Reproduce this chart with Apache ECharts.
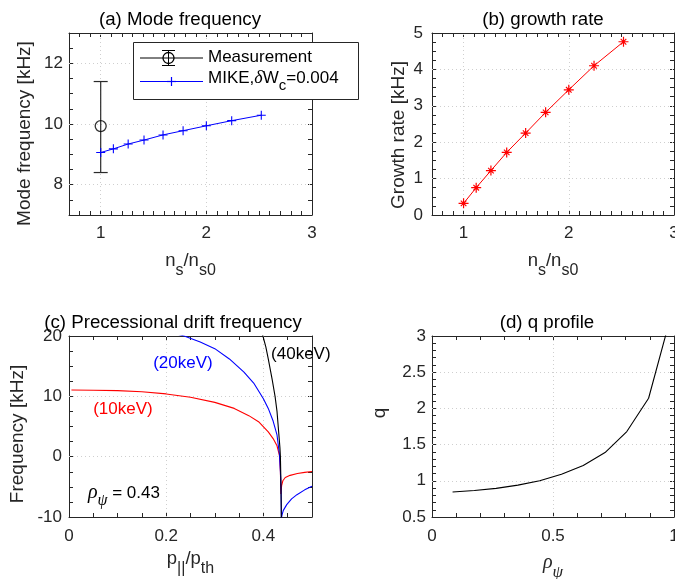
<!DOCTYPE html>
<html>
<head>
<meta charset="utf-8">
<script src="https://cdn.jsdelivr.net/npm/echarts@6/dist/echarts.min.js"></script>
<style>html,body{margin:0;padding:0;background:#fff}#chart{width:675px;height:579px}</style>
</head>
<body>
<div id="chart"></div>
<script>
// ---------------- data ----------------
// (a) mode frequency
const nsRatio      = [1, 1.12, 1.26, 1.41, 1.59, 1.78, 2.0, 2.24, 2.52];
const mikeFreq     = [9.06, 9.18, 9.34, 9.47, 9.64, 9.78, 9.94, 10.11, 10.29];
const measRatio    = [1];
const measFreq     = [9.93];
const measErrLow   = [8.4];
const measErrHigh  = [11.4];
// (b) growth rate
const growthRate   = [0.32, 0.75, 1.22, 1.72, 2.25, 2.82, 3.44, 4.10, 4.76];
// (c) precessional drift frequency
const pRed   = [0.005, 0.05, 0.10, 0.15, 0.20, 0.25, 0.30, 0.34, 0.37, 0.39, 0.41, 0.42, 0.428, 0.433, 0.435, 0.436, 0.4375, 0.44, 0.445, 0.455, 0.47, 0.485, 0.5];
const fRed   = [11.05, 11.02, 10.95, 10.75, 10.4, 9.85, 9.0, 8.0, 6.8, 5.8, 4.1, 3.0, 1.8, 0.2, -2.5, -6.2, -4.8, -4.0, -3.45, -3.1, -2.8, -2.6, -2.45];
const pBlue  = [0.20, 0.237, 0.27, 0.30, 0.33, 0.36, 0.38, 0.40, 0.41, 0.42, 0.428, 0.433, 0.435, 0.4365, 0.437, 0.4385, 0.441, 0.448, 0.458, 0.469, 0.485, 0.5];
const fBlue  = [20.8, 20.0, 19.0, 17.9, 16.2, 14.0, 12.2, 9.6, 8.0, 5.9, 3.6, 0.4, -2.5, -6.0, -10.2, -9.6, -8.9, -7.95, -7.0, -6.3, -5.5, -4.9];
const pBlack = [0.385, 0.399, 0.405, 0.41, 0.418, 0.424, 0.428, 0.431, 0.434, 0.435, 0.436, 0.437];
const fBlack = [23.5, 20.0, 18.2, 16.2, 12.8, 10.0, 7.5, 4.5, 1.5, 0.0, -4.0, -10.5];
// (d) q profile
const rhoPsi = [0.085, 0.175, 0.265, 0.355, 0.445, 0.535, 0.625, 0.715, 0.805, 0.895, 0.985];
const qProf  = [0.845, 0.865, 0.895, 0.94, 1.0, 1.09, 1.21, 1.39, 1.68, 2.14, 3.25];
// tick labels
const ticksAx = [1, 2, 3];
const ticksAy = [8, 10, 12];
const ticksBx = [1, 2, 3];
const ticksBy = [0, 1, 2, 3, 4, 5];
const ticksCx = [0, 0.2, 0.4];
const ticksCy = [-10, 0, 10, 20];
const ticksDx = [0, 0.5, 1];
const ticksDy = [0.5, 1, 1.5, 2, 2.5, 3];

// ---------------- styling helpers ----------------
const FONT = '"Liberation Sans", Arial, Helvetica, sans-serif';
const SERIF = '"Liberation Serif", "DejaVu Serif", serif';
const AX = '#262626';
const GRIDC = '#cfcfcf';
const zip = (xs, ys) => xs.map((x, i) => [x, ys[i]]);

const mainTok = {fontSize: 18.5, fontFamily: FONT, color: AX, verticalAlign: 'middle'};
const subTok  = {fontSize: 16, fontFamily: FONT, color: AX, verticalAlign: 'middle', padding: [20, 0, 0, 0]};

function xPair(gi, min, max, step, labels, name, rich, gap, margin) {
  return [{
    type: 'value', gridIndex: gi, position: 'bottom', min: min, max: max, interval: step,
    axisLine: {show: true, onZero: false, lineStyle: {color: AX, width: 1}},
    axisTick: {show: true, inside: true, length: 4, lineStyle: {color: AX, width: 1}},
    axisLabel: {show: true, customValues: labels, margin: margin, color: AX, fontSize: 17, fontFamily: FONT},
    splitLine: {show: false},
    name: name, nameLocation: 'middle', nameGap: gap,
    nameTextStyle: {rich: rich, fontSize: 18.5, fontFamily: FONT, color: AX}
  }, {
    type: 'value', gridIndex: gi, position: 'top', min: min, max: max, interval: step,
    axisLine: {show: true, onZero: false, lineStyle: {color: AX, width: 1}},
    axisTick: {show: true, inside: true, length: 4, lineStyle: {color: AX, width: 1}},
    axisLabel: {show: false}, splitLine: {show: false}
  }];
}
function yPair(gi, min, max, step, labels, name, gap, margin, pad) {
  return [{
    type: 'value', gridIndex: gi, position: 'left', min: min, max: max, interval: step,
    axisLine: {show: true, onZero: false, lineStyle: {color: AX, width: 1}},
    axisTick: {show: true, inside: true, length: 4, lineStyle: {color: AX, width: 1}},
    axisLabel: {show: true, customValues: labels, margin: margin, color: AX, fontSize: 17, fontFamily: FONT},
    splitLine: {show: false},
    name: name, nameLocation: 'middle', nameGap: gap, nameRotate: 90,
    nameTextStyle: {fontSize: 19, fontFamily: FONT, color: AX, padding: pad}
  }, {
    type: 'value', gridIndex: gi, position: 'right', min: min, max: max, interval: step,
    axisLine: {show: true, onZero: false, lineStyle: {color: AX, width: 1}},
    axisTick: {show: true, inside: true, length: 4, lineStyle: {color: AX, width: 1}},
    axisLabel: {show: false}, splitLine: {show: false}
  }];
}
function gridLines(ai, xs, xmin, xmax, ys, ymin, ymax) {
  const xv = xs.filter(v => v > xmin && v < xmax).map(v => ({xAxis: v}));
  const yv = ys.filter(v => v > ymin && v < ymax).map(v => ({yAxis: v}));
  return {
    type: 'line', xAxisIndex: ai, yAxisIndex: ai, data: [], z: 1, zlevel: 0, silent: true,
    markLine: {
      z: 1, silent: true, symbol: ['none', 'none'], label: {show: false}, animation: false,
      lineStyle: {color: GRIDC, type: [1, 3], width: 1},
      emphasis: {disabled: true},
      data: xv.concat(yv)
    }
  };
}

const plusPath = 'path://M4.4,0h1.2v4.4h4.4v1.2h-4.4v4.4h-1.2v-4.4h-4.4v-1.2h4.4z';
const starPath = 'path://M4.4,0h1.2v10h-1.2z M0,4.4h10v1.2h-10z M1.8,2.6L2.6,1.8L8.2,7.4L7.4,8.2z M7.4,1.8L8.2,2.6L2.6,8.2L1.8,7.4z';

const nsRich = {m: mainTok, s: subTok};
const nsName = '{m|n}{s|s}{m|/n}{s|s0}';

const option = {
  animation: false,
  backgroundColor: '#ffffff',
  textStyle: {fontFamily: FONT},
  grid: [
    {left: 69, top: 33, width: 243, height: 182, outerBoundsMode: 'none'},
    {left: 432, top: 33, width: 242, height: 182, outerBoundsMode: 'none'},
    {left: 69, top: 336, width: 243, height: 181, outerBoundsMode: 'none'},
    {left: 432, top: 336, width: 242, height: 181, outerBoundsMode: 'none'}
  ],
  xAxis: [].concat(
    xPair(0, 0.7, 3, 0.1, ticksAx, nsName, nsRich, 28, 10),
    xPair(1, 0.7, 3, 0.1, ticksBx, nsName, nsRich, 28, 10),
    xPair(2, 0, 0.5, 0.05, ticksCx, '{m|p}{s|||}{m|/p}{s|th}', nsRich, 24, 11),
    xPair(3, 0, 1, 0.1, ticksDx, '{r|ρ}{s|ψ}', {
      r: {fontSize: 20, fontFamily: SERIF, fontStyle: 'italic', color: AX, verticalAlign: 'middle'},
      s: {fontSize: 17, fontFamily: SERIF, fontStyle: 'italic', color: AX, verticalAlign: 'middle', padding: [20, 0, 0, 0]}
    }, 27, 11)
  ),
  yAxis: [].concat(
    yPair(0, 7, 13, 0.5, ticksAy, 'Mode frequency [kHz]', 35, 6, [0, 19, 0, 0]),
    yPair(1, 0, 5, 0.25, ticksBy, 'Growth rate [kHz]', 24, 9, [0, 22, 0, 0]),
    yPair(2, -10, 20, 2.5, ticksCy, 'Frequency [kHz]', 42, 7, [0, 15, 0, 0]),
    yPair(3, 0.5, 3, 0.1, ticksDy, 'q', 43, 6, [0, 0, 0, 27])
  ),
  series: [
    gridLines(0, ticksAx, 0.7, 3, ticksAy, 7, 13),
    gridLines(2, ticksBx, 0.7, 3, ticksBy, 0, 5),
    gridLines(4, ticksCx, 0, 0.5, ticksCy, -10, 20),
    gridLines(6, ticksDx, 0, 1, ticksDy, 0.5, 3),
    // (a) measurement error bar
    {
      type: 'custom', name: 'Measurement error', xAxisIndex: 0, yAxisIndex: 0, z: 8,
      data: measRatio.map((x, i) => [x, measErrLow[i], measErrHigh[i]]),
      renderItem: function (params, api) {
        const x = api.value(0);
        const pLo = api.coord([x, api.value(1)]);
        const pHi = api.coord([x, api.value(2)]);
        const w = 7;
        const st = {stroke: '#2a2a2a', lineWidth: 1.2};
        return {type: 'group', children: [
          {type: 'line', shape: {x1: pLo[0], y1: pLo[1], x2: pHi[0], y2: pHi[1]}, style: st},
          {type: 'line', shape: {x1: pLo[0] - w, y1: pLo[1], x2: pLo[0] + w, y2: pLo[1]}, style: st},
          {type: 'line', shape: {x1: pHi[0] - w, y1: pHi[1], x2: pHi[0] + w, y2: pHi[1]}, style: st}
        ]};
      }
    },
    {
      type: 'scatter', name: 'Measurement', xAxisIndex: 0, yAxisIndex: 0, z: 9,
      data: zip(measRatio, measFreq), symbol: 'circle', symbolSize: 11,
      itemStyle: {color: 'rgba(0,0,0,0)', borderColor: '#000', borderWidth: 1.3}
    },
    {
      type: 'line', name: 'MIKE', xAxisIndex: 0, yAxisIndex: 0, z: 9,
      data: zip(nsRatio, mikeFreq), symbol: plusPath, symbolSize: 9, showAllSymbol: true,
      lineStyle: {color: '#0000ff', width: 1}, itemStyle: {color: '#0000ff', borderWidth: 0}
    },
    // (b)
    {
      type: 'line', name: 'Growth rate', xAxisIndex: 2, yAxisIndex: 2, z: 9,
      data: zip(nsRatio, growthRate), symbol: starPath, symbolSize: 10, showAllSymbol: true,
      lineStyle: {color: '#ff0000', width: 1}, itemStyle: {color: '#ff0000', borderWidth: 0}
    },
    // (c)
    {
      type: 'line', name: '10keV', xAxisIndex: 4, yAxisIndex: 4, z: 9, clip: true,
      data: zip(pRed, fRed), showSymbol: false, lineStyle: {color: '#ff0000', width: 1.1},
      markPoint: {
        symbol: 'circle', symbolSize: 1, itemStyle: {color: 'rgba(0,0,0,0)'}, silent: true,
        label: {show: true, position: 'inside', formatter: '{b}', color: '#ff0000', fontSize: 17, fontFamily: FONT},
        data: [{name: '(10keV)', coord: [0.111, 7.8]}]
      }
    },
    {
      type: 'line', name: '20keV', xAxisIndex: 4, yAxisIndex: 4, z: 9, clip: true,
      data: zip(pBlue, fBlue), showSymbol: false, lineStyle: {color: '#0000ff', width: 1.1},
      markPoint: {
        symbol: 'circle', symbolSize: 1, itemStyle: {color: 'rgba(0,0,0,0)'}, silent: true,
        label: {show: true, position: 'inside', formatter: '{b}', color: '#0000ff', fontSize: 17, fontFamily: FONT},
        data: [{name: '(20keV)', coord: [0.2345, 15.5]}]
      }
    },
    {
      type: 'line', name: '40keV', xAxisIndex: 4, yAxisIndex: 4, z: 9, clip: true,
      data: zip(pBlack, fBlack), showSymbol: false, lineStyle: {color: '#000000', width: 1.1},
      markPoint: {
        symbol: 'circle', symbolSize: 1, itemStyle: {color: 'rgba(0,0,0,0)'}, silent: true,
        label: {show: true, position: 'inside', color: '#000', fontSize: 17, fontFamily: FONT,
          rich: {
            r: {fontSize: 20, fontFamily: SERIF, fontStyle: 'italic', color: '#000', verticalAlign: 'middle'},
            s: {fontSize: 16, fontFamily: SERIF, fontStyle: 'italic', color: '#000', verticalAlign: 'middle', padding: [16, 0, 0, 0]},
            m: {fontSize: 17, fontFamily: FONT, color: '#000', verticalAlign: 'middle'}
          }},
        data: [
          {name: '(40keV)', coord: [0.477, 17.0], label: {formatter: '(40keV)'}},
          {name: 'rho', coord: [0.113, -6.0], label: {formatter: '{r|ρ}{s|ψ}{m| = 0.43}'}}
        ]
      }
    },
    // (d)
    {
      type: 'line', name: 'q', xAxisIndex: 6, yAxisIndex: 6, z: 9, clip: true,
      data: zip(rhoPsi, qProf), showSymbol: false, lineStyle: {color: '#000000', width: 1.1}
    }
  ],
  graphic: [
    // titles
    {type: 'text', x: 180, y: 20, z: 10, style: {text: '(a) Mode frequency', font: '18.7px ' + FONT, fill: '#000', align: 'center', verticalAlign: 'middle'}},
    {type: 'text', x: 543, y: 20, z: 10, style: {text: '(b) growth rate', font: '18.7px ' + FONT, fill: '#000', align: 'center', verticalAlign: 'middle'}},
    {type: 'text', x: 173, y: 323, z: 10, style: {text: '(c) Precessional drift frequency', font: '18.7px ' + FONT, fill: '#000', align: 'center', verticalAlign: 'middle'}},
    {type: 'text', x: 547, y: 323, z: 10, style: {text: '(d) q profile', font: '18.7px ' + FONT, fill: '#000', align: 'center', verticalAlign: 'middle'}},
    // legend (a)
    {type: 'group', z: 20, children: [
      {type: 'rect', shape: {x: 133.5, y: 42.5, width: 225, height: 57}, style: {fill: '#fff', stroke: AX, lineWidth: 1}, z: 20},
      {type: 'line', shape: {x1: 140, y1: 58, x2: 203, y2: 58}, style: {stroke: '#000', lineWidth: 1}, z: 21},
      {type: 'line', shape: {x1: 168.5, y1: 50.5, x2: 168.5, y2: 65.5}, style: {stroke: '#000', lineWidth: 1}, z: 21},
      {type: 'line', shape: {x1: 162, y1: 50.5, x2: 175, y2: 50.5}, style: {stroke: '#000', lineWidth: 1}, z: 21},
      {type: 'line', shape: {x1: 162, y1: 65.5, x2: 175, y2: 65.5}, style: {stroke: '#000', lineWidth: 1}, z: 21},
      {type: 'circle', shape: {cx: 168.5, cy: 58, r: 5.5}, style: {fill: 'none', stroke: '#000', lineWidth: 1.3}, z: 21},
      {type: 'text', x: 208, y: 57.5, z: 21, style: {text: 'Measurement', font: '17px ' + FONT, fill: '#000', align: 'left', verticalAlign: 'middle'}},
      {type: 'line', shape: {x1: 140, y1: 81.5, x2: 203, y2: 81.5}, style: {stroke: '#0000ff', lineWidth: 1}, z: 21},
      {type: 'line', shape: {x1: 167, y1: 81.5, x2: 176, y2: 81.5}, style: {stroke: '#0000ff', lineWidth: 1.2}, z: 21},
      {type: 'line', shape: {x1: 171.5, y1: 77, x2: 171.5, y2: 86}, style: {stroke: '#0000ff', lineWidth: 1.2}, z: 21},
      {type: 'text', x: 208, y: 78.5, z: 21, style: {
        text: '{m|MIKE,}{d|δ}{m|W}{s|c}{m|=0.004}', align: 'left', verticalAlign: 'middle',
        rich: {
          m: {fontSize: 17, fontFamily: FONT, fill: '#000', color: '#000', verticalAlign: 'middle'},
          d: {fontSize: 18, fontFamily: SERIF, fontStyle: 'italic', fill: '#000', color: '#000', verticalAlign: 'middle'},
          s: {fontSize: 15, fontFamily: FONT, fill: '#000', color: '#000', verticalAlign: 'middle', padding: [14, 0, 0, 0]}
        }
      }}
    ]}
  ]
};

const chart = echarts.init(document.getElementById('chart'), null, {renderer: 'canvas'});
chart.setOption(option);
</script>
</body>
</html>
